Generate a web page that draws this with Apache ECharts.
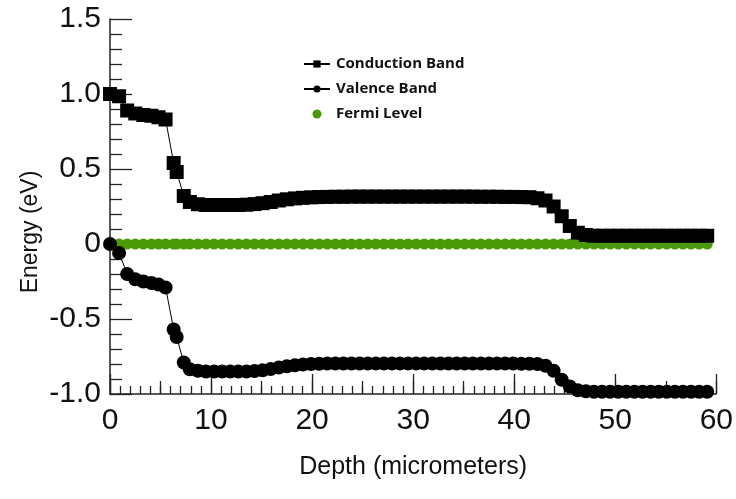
<!DOCTYPE html>
<html>
<head>
<meta charset="utf-8">
<script src="https://cdn.jsdelivr.net/npm/echarts@6/dist/echarts.min.js"></script>
<style>
  html, body { margin: 0; padding: 0; background: #fff; }
  #chart { width: 736px; height: 499px; }
</style>
</head>
<body>
<div id="chart"></div>
<script>
// Depth positions of the simulation mesh (micrometers)
const depth = [0, 0.9, 1.7, 2.5, 3.3, 4.1, 4.8, 5.5, 6.3, 6.6, 7.3, 7.9,
  8.7, 9.5, 10.3, 11.1, 11.9, 12.7, 13.5, 14.3, 15.1, 15.9, 16.7, 17.5,
  18.3, 19.1, 19.9, 20.7, 21.5, 22.3, 23.1, 23.9, 24.7, 25.5, 26.3, 27.1,
  27.9, 28.7, 29.5, 30.3, 31.1, 31.9, 32.7, 33.5, 34.3, 35.1, 35.9, 36.7,
  37.5, 38.3, 39.1, 39.9, 40.7, 41.5, 42.3, 43.1, 43.9, 44.7, 45.5, 46.3,
  47.1, 47.9, 48.7, 49.5, 50.3, 51.1, 51.9, 52.7, 53.5, 54.3, 55.1, 55.9,
  56.7, 57.5, 58.3, 59.1];

// Conduction band edge (eV)
const conduction = [1.00, 0.985, 0.89, 0.87, 0.86, 0.855, 0.845, 0.83, 0.54, 0.48, 0.32, 0.28,
  0.265, 0.26, 0.26, 0.26, 0.26, 0.26, 0.262, 0.266, 0.272, 0.28, 0.29, 0.298,
  0.304, 0.308, 0.311, 0.313, 0.314, 0.315, 0.315, 0.316, 0.316, 0.316, 0.316, 0.316,
  0.316, 0.316, 0.316, 0.316, 0.316, 0.316, 0.316, 0.316, 0.316, 0.316, 0.316, 0.315,
  0.315, 0.315, 0.314, 0.314, 0.313, 0.312, 0.305, 0.29, 0.25, 0.185, 0.12, 0.075,
  0.06, 0.055, 0.055, 0.055, 0.055, 0.055, 0.055, 0.055, 0.055, 0.055, 0.055, 0.055,
  0.055, 0.055, 0.055, 0.055];

// Valence band edge (eV)
const valence = [0.0, -0.06, -0.20, -0.235, -0.25, -0.26, -0.27, -0.29, -0.57, -0.62, -0.79, -0.835,
  -0.845, -0.85, -0.85, -0.85, -0.85, -0.85, -0.85, -0.847, -0.842, -0.834, -0.824, -0.815,
  -0.808, -0.803, -0.800, -0.798, -0.797, -0.797, -0.797, -0.797, -0.797, -0.797, -0.797, -0.797,
  -0.797, -0.797, -0.797, -0.797, -0.797, -0.797, -0.797, -0.797, -0.797, -0.797, -0.797, -0.797,
  -0.797, -0.797, -0.797, -0.797, -0.798, -0.798, -0.80, -0.812, -0.845, -0.905, -0.95, -0.975,
  -0.982, -0.985, -0.985, -0.985, -0.985, -0.985, -0.985, -0.985, -0.985, -0.985, -0.985, -0.985,
  -0.985, -0.985, -0.985, -0.985];

// Fermi level (eV), reference energy
const fermi = [0, 0, 0, 0, 0, 0, 0, 0, 0, 0, 0, 0,
  0, 0, 0, 0, 0, 0, 0, 0, 0, 0, 0, 0,
  0, 0, 0, 0, 0, 0, 0, 0, 0, 0, 0, 0,
  0, 0, 0, 0, 0, 0, 0, 0, 0, 0, 0, 0,
  0, 0, 0, 0, 0, 0, 0, 0, 0, 0, 0, 0,
  0, 0, 0, 0, 0, 0, 0, 0, 0, 0, 0, 0,
  0, 0, 0, 0];

const seriesNames = ['Conduction Band', 'Valence Band', 'Fermi Level'];

const pairs = (xs, ys) => xs.map((x, i) => [x, ys[i]]);

const axisColor = '#222';
const labelFont = { fontFamily: 'Liberation Sans', fontSize: 30, color: '#111' };

const chart = echarts.init(document.getElementById('chart'), null, { renderer: 'canvas' });

chart.setOption({
  animation: false,
  backgroundColor: '#fff',
  grid: { left: 110, right: 19, top: 19, bottom: 105, containLabel: false },
  legend: {
    data: seriesNames,
    orient: 'vertical',
    left: 298,
    top: 51,
    itemWidth: 26,
    itemHeight: 9,
    itemGap: 9,
    textStyle: {
      fontFamily: 'Open Sans',
      fontWeight: 'bold',
      fontSize: 15,
      lineHeight: 16,
      color: '#111',
      padding: [0, 0, 0, 1]
    }
  },
  xAxis: [
    {
      type: 'value',
      position: 'bottom',
      min: 0,
      max: 60,
      interval: 10,
      name: 'Depth (micrometers)',
      nameLocation: 'middle',
      nameGap: 61,
      nameTextStyle: { fontFamily: 'Liberation Sans', fontSize: 25, color: '#111' },
      axisLine: { onZero: false, lineStyle: { color: axisColor, width: 1.5 } },
      axisTick: { inside: true, length: 20, lineStyle: { color: axisColor, width: 1.3 } },
      minorTick: { show: true, splitNumber: 10, length: 8, lineStyle: { color: axisColor, width: 1.3 } },
      axisLabel: Object.assign({ margin: 12 }, labelFont),
      splitLine: { show: false },
      minorSplitLine: { show: false }
    },
    {
      // mid-decade ticks every 5 micrometers
      type: 'value',
      position: 'bottom',
      min: 0,
      max: 60,
      interval: 5,
      axisLine: { show: false, onZero: false },
      axisTick: { inside: true, length: 13, lineStyle: { color: axisColor, width: 1.3 } },
      axisLabel: { show: false },
      splitLine: { show: false }
    }
  ],
  yAxis: {
    type: 'value',
    min: -1,
    max: 1.5,
    interval: 0.5,
    axisLine: { onZero: false, lineStyle: { color: axisColor, width: 1.5 } },
    axisTick: { inside: true, length: 22, lineStyle: { color: axisColor, width: 1.3 } },
    minorTick: { show: true, splitNumber: 5, length: 12, lineStyle: { color: axisColor, width: 1.3 } },
    axisLabel: Object.assign({
      margin: 9,
      formatter: v => (v === 0 ? '0' : v.toFixed(1))
    }, labelFont),
    splitLine: { show: false },
    minorSplitLine: { show: false }
  },
  graphic: [{
    type: 'text',
    x: 31,
    y: 232,
    rotation: Math.PI / 2,
    style: {
      text: 'Energy (eV)',
      fontFamily: 'Liberation Sans',
      fontSize: 23,
      fill: '#111',
      align: 'center',
      verticalAlign: 'middle'
    }
  }],
  series: [
    {
      name: 'Fermi Level',
      type: 'scatter',
      data: pairs(depth, fermi),
      symbol: 'circle',
      symbolSize: 11,
      itemStyle: { color: '#4a9a08', opacity: 1 },
      z: 1
    },
    {
      name: 'Conduction Band',
      type: 'line',
      data: pairs(depth, conduction),
      symbol: 'rect',
      symbolSize: 14,
      showAllSymbol: true,
      lineStyle: { color: '#000', width: 1 },
      itemStyle: { color: '#000' },
      z: 3
    },
    {
      name: 'Valence Band',
      type: 'line',
      data: pairs(depth, valence),
      symbol: 'circle',
      symbolSize: 14,
      showAllSymbol: true,
      lineStyle: { color: '#000', width: 1 },
      itemStyle: { color: '#000' },
      z: 3
    }
  ]
});
</script>
</body>
</html>
